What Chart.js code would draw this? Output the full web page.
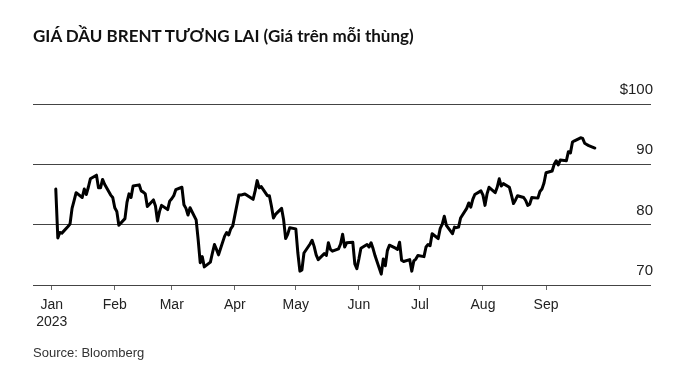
<!DOCTYPE html>
<html>
<head>
<meta charset="utf-8">
<script src="https://cdn.jsdelivr.net/npm/chart.js@4.4.0/dist/chart.umd.min.js"></script>
<style>
  body { margin: 0; background: #fff; }
  #wrap { position: relative; width: 673px; height: 371px; }
  #chart { position: absolute; left: 0; top: 0; }
  .title {
    position: absolute; left: 33px; top: 25px;
    font: bold 17px Lato, sans-serif; line-height: 22px;
    color: #111; white-space: nowrap;
  }
  .source {
    position: absolute; left: 33px; top: 344px;
    font: 13px "Liberation Sans", Arial, sans-serif; line-height: 18px;
    color: #333;
  }
</style>
</head>
<body>
<div id="wrap">
  <canvas id="chart" width="673" height="371"></canvas>
  <div class="title">GIÁ DẦU BRENT TƯƠNG LAI (Giá trên mỗi thùng)</div>
  <div class="source">Source: Bloomberg</div>
</div>
<script>
// trading days and closing price ($ per barrel)
const dates = [
  '01-03','01-04','01-05','01-06','01-09','01-10','01-11','01-12','01-13','01-16','01-17','01-18','01-19','01-20',
  '01-23','01-24','01-25','01-26','01-27','01-30','01-31',
  '02-01','02-02','02-03','02-06','02-07','02-08','02-09','02-10','02-13','02-14','02-15','02-16','02-17',
  '02-20','02-21','02-22','02-23','02-24','02-27','02-28',
  '03-01','03-02','03-03','03-06','03-07','03-08','03-09','03-10','03-13','03-14','03-15','03-16','03-17',
  '03-20','03-21','03-22','03-23','03-24','03-27','03-28','03-29','03-30','03-31',
  '04-03','04-04','04-05','04-06','04-10','04-11','04-12','04-13','04-14','04-17','04-18','04-19','04-20','04-21',
  '04-24','04-25','04-26','04-27','04-28',
  '05-01','05-02','05-03','05-04','05-05','05-08','05-09','05-10','05-11','05-12','05-15','05-16','05-17','05-18',
  '05-19','05-22','05-23','05-24','05-25','05-26','05-29','05-30','05-31',
  '06-01','06-02','06-05','06-06','06-07','06-08','06-09','06-12','06-13','06-14','06-15','06-16','06-19','06-20',
  '06-21','06-22','06-23','06-26','06-27','06-28','06-29','06-30',
  '07-03','07-04','07-05','07-06','07-07','07-10','07-11','07-12','07-13','07-14','07-17','07-18','07-19','07-20',
  '07-21','07-24','07-25','07-26','07-27','07-28','07-31',
  '08-01','08-02','08-03','08-04','08-07','08-08','08-09','08-10','08-11','08-14','08-15','08-16','08-17','08-18',
  '08-21','08-22','08-23','08-24','08-25','08-28','08-29','08-30','08-31',
  '09-01','09-04','09-05','09-06','09-07','09-08','09-11','09-12','09-13','09-14','09-15','09-18','09-19','09-20',
  '09-21','09-22','09-25'
];
const prices = [
  85.9, 77.8, 78.7, 78.6, 79.7, 80.1, 82.7, 84.0, 85.3, 84.5, 85.9, 85.0, 86.2, 87.6,
  88.2, 86.1, 86.1, 87.5, 86.7, 84.9, 84.5,
  82.8, 82.2, 79.9, 81.0, 83.7, 85.1, 84.5, 86.4, 86.6, 85.6, 85.4, 85.1, 83.0,
  84.1, 83.1, 80.6, 82.2, 83.2, 82.5, 83.9,
  84.3, 84.8, 85.8, 86.2, 83.3, 82.7, 81.6, 82.8, 80.8, 77.5, 73.7, 74.7, 73.0,
  73.8, 75.3, 76.7, 75.9, 75.0, 78.1, 78.7, 78.3, 79.3, 79.8,
  84.9, 84.9, 85.0, 85.1, 84.2, 85.6, 87.3, 86.1, 86.3, 84.8, 84.8, 83.1, 81.1, 81.7,
  82.7, 80.8, 77.7, 78.4, 79.5,
  79.3, 75.3, 72.3, 72.5, 75.3, 76.8, 77.4, 76.4, 75.0, 74.2, 75.2, 74.9, 77.0, 75.9,
  75.6, 76.0, 76.8, 78.4, 76.3, 77.0, 77.1, 73.5, 72.7,
  74.3, 76.1, 76.7, 76.3, 77.0, 76.0, 74.8, 71.8, 74.3, 73.2, 75.7, 76.6, 76.1, 75.9,
  77.1, 74.1, 73.9, 74.2, 72.3, 74.0, 74.3, 74.9,
  74.7, 76.3, 76.7, 76.5, 78.5, 77.7, 79.4, 80.1, 81.4, 79.9, 78.5, 79.6, 79.5, 79.6,
  81.1, 82.7, 83.6, 82.9, 84.2, 85.0, 85.6,
  84.9, 83.2, 85.1, 86.2, 85.3, 86.2, 87.6, 86.4, 86.8, 86.2, 84.9, 83.5, 84.1, 84.8,
  84.5, 84.0, 83.2, 83.4, 84.5, 84.4, 85.5, 85.9, 86.9,
  88.6, 88.9, 90.0, 90.6, 89.9, 90.7, 90.6, 92.1, 91.9, 93.7, 93.9, 94.4, 94.3, 93.5,
  93.3, 93.1, 92.7
];
const monthStarts = ['01-01','02-01','03-01','04-01','05-01','06-01','07-01','08-01','09-01'];
const monthLabels = [['Jan', '2023'], 'Feb', 'Mar', 'Apr', 'May', 'Jun', 'Jul', 'Aug', 'Sep'];
const priceTicks = [70, 80, 90, 100];

// day number counted from Jan 1 2023
function dayOf(md) {
  const [m, d] = md.split('-').map(Number);
  return (Date.UTC(2023, m - 1, d) - Date.UTC(2023, 0, 1)) / 86400000;
}

const points = dates.map((d, i) => ({ x: dayOf(d), y: prices[i] }));
const tickDays = monthStarts.map(dayOf);

new Chart(document.getElementById('chart'), {
  type: 'line',
  data: {
    datasets: [{
      data: points,
      borderColor: '#000',
      borderWidth: 3,
      pointRadius: 0,
      tension: 0,
      borderJoinStyle: 'round',
      borderCapStyle: 'round'
    }]
  },
  options: {
    responsive: false,
    animation: false,
    layout: { padding: { left: 33, right: 22, top: 104, bottom: 30 } },
    plugins: { legend: { display: false }, tooltip: { enabled: false } },
    scales: {
      x: {
        type: 'linear',
        min: -9.2,
        max: 294.6,
        afterBuildTicks: (scale) => { scale.ticks = tickDays.map(v => ({ value: v })); },
        afterFit: (scale) => { scale.height = 56; },
        grid: { drawOnChartArea: false, drawTicks: true, tickLength: 5, color: '#666' },
        border: { display: false },
        ticks: {
          autoSkip: false,
          maxRotation: 0,
          padding: 7,
          color: '#222',
          font: { family: '"Liberation Sans", Arial, sans-serif', size: 14 },
          callback: (value, index) => monthLabels[index]
        }
      },
      y: {
        position: 'right',
        min: 70,
        max: 100,
        afterBuildTicks: (scale) => { scale.ticks = priceTicks.map(v => ({ value: v })); },
        afterFit: (scale) => { scale.width = 0; },
        grid: { drawTicks: false, color: '#444', lineWidth: 1 },
        border: { display: false },
        ticks: {
          mirror: true,
          padding: 2,
          labelOffset: -14,
          color: '#222',
          font: { family: '"Liberation Sans", Arial, sans-serif', size: 15 },
          callback: (value) => value === 100 ? '$100' : String(value)
        }
      }
    }
  }
});
</script>
</body>
</html>
